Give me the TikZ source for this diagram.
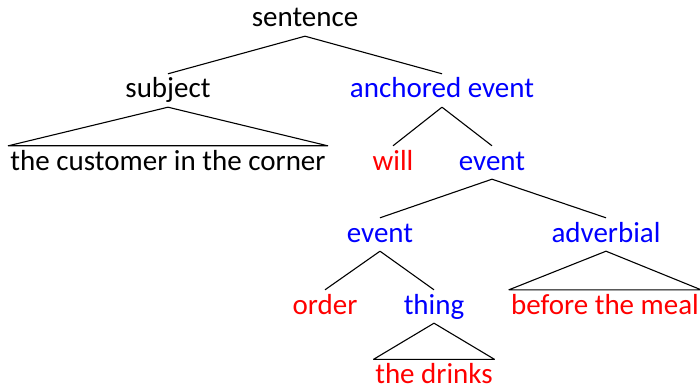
\documentclass[tikz,border=0pt]{standalone}
\usepackage{fontspec}
\setmainfont{Carlito}
\begin{document}
\begin{tikzpicture}[x=1pt,y=1pt,
  word/.style={anchor=base,inner sep=2pt,text height=22pt,text depth=7pt,
    font=\fontsize{29}{34}\selectfont},
  cat/.style={word,text=blue},
  lex/.style={word,text=red},
  branch/.style={line width=1.1pt,line join=round}]
\useasboundingbox (0,0) rectangle (700,-390);
% Top level
\node[word] (sentence) at (305,-27) {sentence};
\node[word] (subject) at (168,-98) {subject};
\node[cat] (anchored) at (442,-98) {anchored event};
\draw[branch] (sentence.south) -- (subject.north);
\draw[branch] (sentence.south) -- (anchored.north);
% Subject phrase
\node[word] (customer) at (168,-170) {the customer in the corner};
\draw[branch] (subject.south) -- (customer.north west) -- (customer.north east) -- cycle;
% Anchored event
\node[lex] (will) at (393,-170) {will};
\node[cat] (event) at (492,-170) {event};
\draw[branch] (anchored.south) -- (will.north);
\draw[branch] (anchored.south) -- (event.north);
% Event and adverbial
\node[cat] (subevent) at (380,-242) {event};
\node[cat] (adverbial) at (606,-242) {adverbial};
\draw[branch] (event.south) -- (subevent.north);
\draw[branch] (event.south) -- (adverbial.north);
\node[lex] (order) at (325,-314) {order};
\node[cat] (thing) at (434,-314) {thing};
\draw[branch] (subevent.south) -- (order.north);
\draw[branch] (subevent.south) -- (thing.north);
\node[lex] (meal) at (605,-314) {before the meal};
\draw[branch] (adverbial.south) -- (meal.north west) -- (meal.north east) -- cycle;
% Object
\node[lex,text depth=1pt,inner sep=1.5pt] (drinks) at (434,-383) {the drinks};
\draw[branch] (thing.south) -- (drinks.north west) -- (drinks.north east) -- cycle;
\end{tikzpicture}
\end{document}
